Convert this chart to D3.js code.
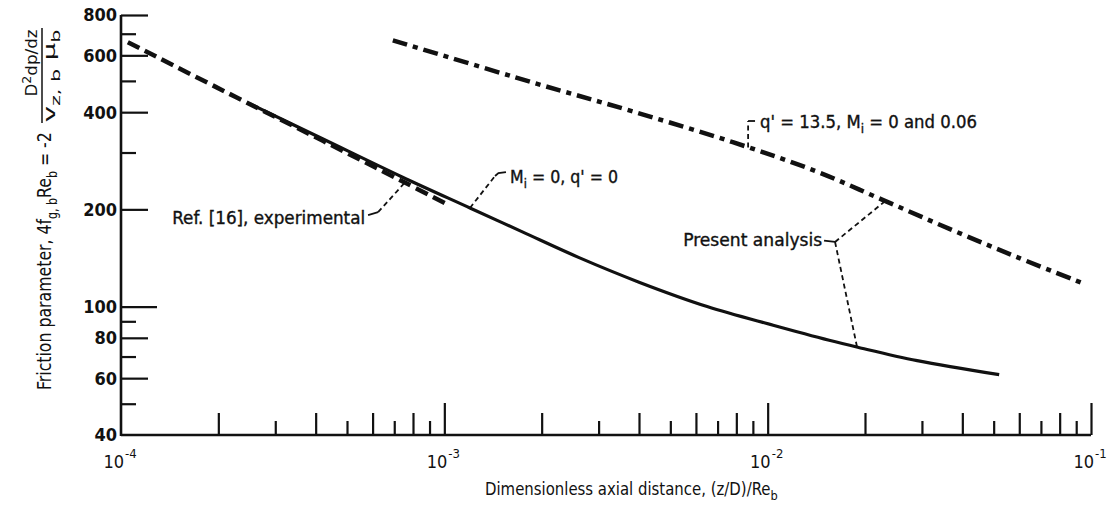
<!DOCTYPE html>
<html>
<head>
<meta charset="utf-8">
<script src="https://cdn.jsdelivr.net/npm/d3@7"></script>
<style>
  body { margin: 0; background: #fff; }
  svg { display: block; }
  text { font-family: "Liberation Sans Narrow", "DejaVu Sans Condensed", "Roboto Condensed", Roboto, sans-serif; fill: #111; }
  .note { stroke: #111; stroke-width: 0.35; }
</style>
</head>
<body>
<svg id="chart" width="1112" height="505"></svg>
<script>
// values (x = (z/D)/Re_b, f = friction parameter)
var refX  = [1.05e-4, 2.28e-4, 4.21e-4, 7.44e-4, 1.025e-3];
var refF  = [659, 444, 326, 244, 207];

var zeroX = [2.5e-4, 4.2e-4, 7.4e-4, 1.2e-3, 1.75e-3, 2.6e-3, 4.0e-3, 6.5e-3, 1.04e-2, 1.55e-2, 1.9e-2, 2.9e-2, 5.2e-2];
var zeroF = [425, 331, 252, 202, 170, 142, 119, 100, 87.5, 78.6, 74.8, 68, 61.5];

var heatX = [6.93e-4, 1.88e-3, 3.83e-3, 7.8e-3, 1.418e-2, 2.267e-2, 3.65e-2, 5.88e-2, 9.35e-2];
var heatF = [668, 494, 402, 323, 262, 214, 174, 142.5, 118.5];

var yLabels     = [800, 600, 400, 200, 100, 80, 60, 40];
var yTicksMajor = [800, 600, 400, 200, 80, 60];
var yTicksLong  = [100];
var yTicksMinor = [700, 500, 300, 90, 70, 50];
var xDecades    = [1e-4, 1e-3, 1e-2, 1e-1];

var svg = d3.select("#chart");

var x = d3.scaleLog().domain([1e-4, 1e-1]).range([121, 1091]);
var y = d3.scaleLog().domain([40, 800]).range([435, 15]);

// interpolate a curve in log-log space, used to hook leader lines onto curves
function valueAt(xs, fs, xv) {
  var lx = Math.log10(xv);
  for (var i = 0; i < xs.length - 1; i++) {
    var a = Math.log10(xs[i]), b = Math.log10(xs[i + 1]);
    if (lx >= a && lx <= b) {
      var t = (lx - a) / (b - a);
      return Math.pow(10, Math.log10(fs[i]) + t * (Math.log10(fs[i + 1]) - Math.log10(fs[i])));
    }
  }
  return fs[fs.length - 1];
}

// squeeze a text to a given width around its anchor point
function fit(sel, w) {
  var bb = sel.node().getBBox();
  var x0 = +sel.attr("x") || 0;
  var s = w / bb.width;
  sel.attr("transform", "translate(" + x0 + ",0) scale(" + s + ",1) translate(" + (-x0) + ",0)");
}

// ---- axes ----
function yTicks(vals, len) {
  svg.append("g")
    .attr("transform", "translate(" + x(1e-4) + ",0)")
    .call(d3.axisLeft(y).tickValues(vals).tickSize(-len).tickFormat(""))
    .call(function(g) { g.select(".domain").remove(); })
    .selectAll("line").attr("stroke", "#111").attr("stroke-width", 2.2);
}
yTicks(yTicksMajor, 27);
yTicks(yTicksLong, 36);
yTicks(yTicksMinor, 15);

var xAll = x.ticks().filter(function(d) { return d > 1e-4; });
function mant(d) { return Math.round(d / Math.pow(10, Math.floor(Math.log10(d) + 1e-9))); }
function xTicks(vals, len) {
  svg.append("g")
    .attr("transform", "translate(0," + y(40) + ")")
    .call(d3.axisBottom(x).tickValues(vals).tickSize(-len).tickFormat(""))
    .call(function(g) { g.select(".domain").remove(); })
    .selectAll("line").attr("stroke", "#111").attr("stroke-width", 2.2);
}
xTicks(xAll.filter(function(d) { return mant(d) === 1; }), 32);
xTicks(xAll.filter(function(d) { return mant(d) !== 1 && mant(d) % 2 === 0; }), 22);
xTicks(xAll.filter(function(d) { return mant(d) % 2 === 1 && mant(d) !== 1; }), 14);

svg.append("line")
  .attr("x1", x(1e-4)).attr("x2", x(1e-4))
  .attr("y1", y(40) + 1).attr("y2", y(800))
  .attr("stroke", "#111").attr("stroke-width", 2.6);
svg.append("line")
  .attr("x1", x(1e-4)).attr("x2", x(1e-1))
  .attr("y1", y(40)).attr("y2", y(40))
  .attr("stroke", "#111").attr("stroke-width", 2.6);

svg.selectAll(".ylab")
  .data(yLabels)
  .enter().append("text")
    .attr("class", "ylab")
    .attr("x", x(1e-4) - 4)
    .attr("y", function(d) { return y(d); })
    .attr("dy", "0.36em")
    .attr("text-anchor", "end")
    .style("font-size", "18px")
    .style("font-weight", "bold")
    .text(function(d) { return d; });

svg.selectAll(".xlab")
  .data(xDecades)
  .enter().append("text")
    .attr("class", "xlab")
    .attr("x", function(d) { return x(d) + 3; })
    .attr("y", y(40) + 33)
    .attr("text-anchor", "end")
    .style("font-size", "18px")
    .text("10");
svg.selectAll(".xsup")
  .data(xDecades)
  .enter().append("text")
    .attr("class", "xsup")
    .attr("x", function(d) { return x(d) + 4; })
    .attr("y", y(40) + 23)
    .style("font-size", "13px")
    .text(function(d) { return "-" + Math.round(-Math.log10(d)); });

// x title
var xt = svg.append("text")
  .attr("x", 485).attr("y", 495)
  .style("font-size", "17px");
xt.append("tspan").text("Dimensionless axial distance,  (z/D)/Re");
xt.append("tspan").attr("dy", 5).style("font-size", "13px").text("b");
fit(xt, 293);

// y title (rotated)
var yt = svg.append("g").attr("transform", "rotate(-90)");
var ym = yt.append("text").attr("x", -390).attr("y", 51).style("font-size", "20px");
ym.append("tspan").text("Friction parameter,  4f");
ym.append("tspan").attr("dy", 6).style("font-size", "14px").text("g, b");
ym.append("tspan").attr("dy", -6).text("Re");
ym.append("tspan").attr("dy", 6).style("font-size", "14px").text("b");
ym.append("tspan").attr("dy", -6).text("  =  -2");
fit(ym, 258);

var num = yt.append("text").attr("x", -63).attr("y", 37).attr("text-anchor", "middle").style("font-size", "16px");
num.append("tspan").text("D");
num.append("tspan").attr("dy", -6).style("font-size", "12px").text("2");
num.append("tspan").attr("dy", 6).text("dp/dz");
fit(num, 67);

yt.append("line").attr("x1", -123).attr("x2", -28).attr("y1", 42).attr("y2", 42)
  .attr("stroke", "#111").attr("stroke-width", 1.5);

var den = yt.append("text").attr("x", -76).attr("y", 55).attr("text-anchor", "middle").style("font-size", "16px");
den.append("tspan").text("v");
den.append("tspan").attr("dy", 5).style("font-size", "12px").text("z, b");
den.append("tspan").attr("dy", -5).text(" \u03bc");
den.append("tspan").attr("dy", 5).style("font-size", "12px").text("b");
fit(den, 93);

// ---- curves ----
var line = d3.line()
  .x(function(d) { return x(d[0]); })
  .y(function(d) { return y(d[1]); })
  .curve(d3.curveCatmullRom);

svg.append("path")
  .datum(d3.zip(refX, refF))
  .attr("d", line)
  .attr("fill", "none").attr("stroke", "#111")
  .attr("stroke-width", 4.5).attr("stroke-dasharray", "13,6");

svg.append("path")
  .datum(d3.zip(zeroX, zeroF))
  .attr("d", line)
  .attr("fill", "none").attr("stroke", "#111")
  .attr("stroke-width", 3.2);

svg.append("path")
  .datum(d3.zip(heatX, heatF))
  .attr("d", line)
  .attr("fill", "none").attr("stroke", "#111")
  .attr("stroke-width", 4.5).attr("stroke-dasharray", "15,6,5,6");

// ---- annotations ----
var straight = d3.line()
  .x(function(d) { return x(d[0]); })
  .y(function(d) { return y(d[1]); });

function leader(pts, dashed) {
  svg.append("path")
    .attr("d", straight(pts))
    .attr("fill", "none").attr("stroke", "#111")
    .attr("stroke-width", 1.8)
    .attr("stroke-dasharray", dashed ? "5,3.5" : null);
}

function note(xv, fv, anchor) {
  return svg.append("text")
    .attr("class", "note")
    .attr("x", x(xv)).attr("y", y(fv)).attr("dy", "0.36em")
    .attr("text-anchor", anchor)
    .style("font-size", "18px");
}

// Ref. [16], experimental
var n1 = note(5.69e-4, 189, "end");
n1.text("Ref. [16], experimental");
fit(n1, 193);
leader([[5.81e-4, 192], [6.24e-4, 196]], false);
leader([[6.24e-4, 196], [7.55e-4, valueAt(refX, refF, 7.55e-4)]], true);

// M_i = 0, q' = 0
var n2 = note(1.597e-3, 252, "start");
n2.append("tspan").text("M");
n2.append("tspan").attr("dy", 5).style("font-size", "13px").text("i");
n2.append("tspan").attr("dy", -5).text(" = 0,  q' = 0");
fit(n2, 108);
leader([[1.2e-3, valueAt(zeroX, zeroF, 1.2e-3)], [1.435e-3, 253.7]], true);
leader([[1.435e-3, 253.7], [1.47e-3, 259], [1.551e-3, 261]], false);

// q' = 13.5, M_i = 0 and 0.06
var n3 = note(9.47e-3, 373, "start");
n3.append("tspan").text("q' = 13.5,  M");
n3.append("tspan").attr("dy", 5).style("font-size", "13px").text("i");
n3.append("tspan").attr("dy", -5).text(" = 0 and 0.06");
fit(n3, 217);
leader([[8.7e-3, valueAt(heatX, heatF, 8.7e-3)], [8.7e-3, 375.6]], true);
leader([[8.7e-3, 375.6], [9.14e-3, 375.6]], false);

// Present analysis
var n4 = note(1.474e-2, 160.7, "end");
n4.text("Present analysis");
fit(n4, 139);
leader([[1.494e-2, 160], [1.616e-2, 158.5]], false);
leader([[1.616e-2, 158.5], [2.31e-2, valueAt(heatX, heatF, 2.31e-2)]], true);
leader([[1.616e-2, 158.5], [1.89e-2, valueAt(zeroX, zeroF, 1.89e-2)]], true);
</script>
</body>
</html>
